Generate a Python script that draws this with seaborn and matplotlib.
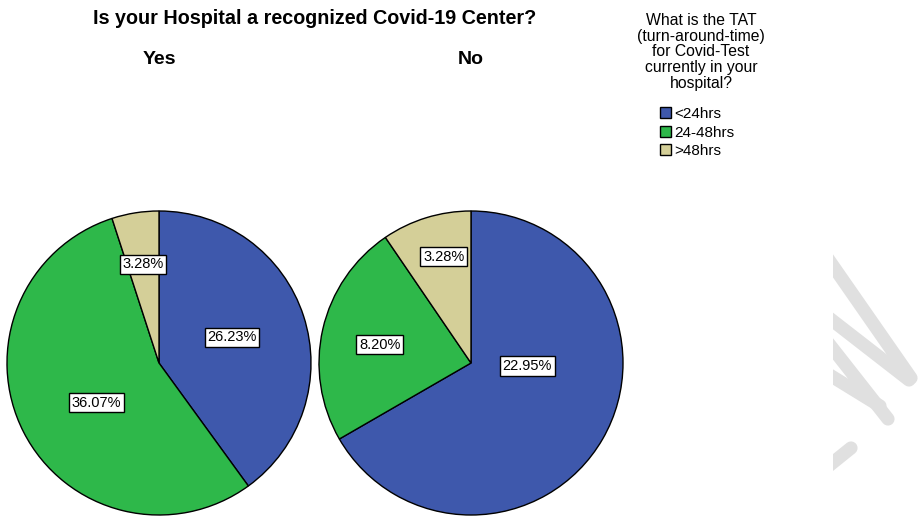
import matplotlib
matplotlib.use("Agg")
import matplotlib.pyplot as plt
import seaborn as sns
from matplotlib.patches import Patch, Rectangle
from matplotlib.lines import Line2D

# Data: respondent counts (percent labels are share of all respondents)
groups = ["Yes", "No"]
tat_categories = ["<24hrs", "24-48hrs", ">48hrs"]
yes_counts = [16, 22, 2]
no_counts = [14, 5, 2]
colors = ["#3e58ac", "#2eb84a", "#d4cf98"]

total = sum(yes_counts) + sum(no_counts)

sns.set_theme(style="white")
plt.rcParams["font.family"] = ["Liberation Sans", "DejaVu Sans"]
plt.rcParams["text.color"] = "black"

fig = plt.figure(figsize=(9.19, 5.2), dpi=100)
W, H = 919, 520

# label positions inside each pie (data coords, radius 1)
label_pos = {
    "Yes": [(0.48, 0.17), (-0.41, -0.26), (-0.105, 0.65)],
    "No": [(0.37, -0.02), (-0.60, 0.12), (-0.18, 0.70)],
}
pie_left = {"Yes": 7, "No": 319}

for name, counts in zip(groups, [yes_counts, no_counts]):
    ax = fig.add_axes([pie_left[name] / W, 5 / H, 304 / W, 304 / H])
    wedges, _ = ax.pie(counts, colors=colors, startangle=90, counterclock=False,
                       wedgeprops=dict(edgecolor="black", linewidth=1))
    for w in wedges:
        w.set_clip_on(False)
    for c, (x, y) in zip(counts, label_pos[name]):
        ax.text(x, y, f"{c / total * 100:.2f}%", ha="center", va="center", fontsize=10.5,
                bbox=dict(boxstyle="square,pad=0.18", fc="white", ec="black", lw=1))
    ax.set_xlim(-1, 1)
    ax.set_ylim(-1, 1)
    ax.set_aspect("equal")
    ax.axis("off")
    fig.text((pie_left[name] + 152) / W, 1 - 59 / H, name, ha="center", va="center",
             fontsize=14, fontweight="bold")

fig.text(315 / W, 1 - 18 / H, "Is your Hospital a recognized Covid-19 Center?",
         ha="center", va="center", fontsize=14.2, fontweight="bold")

fig.text(701 / W, 1 - 52 / H,
         "What is the TAT\n(turn-around-time)\nfor Covid-Test\ncurrently in your\nhospital?",
         ha="center", va="center", fontsize=11.3, linespacing=1.08)

handles = [Patch(facecolor=c, edgecolor="black", linewidth=1) for c in colors]
fig.legend(handles, tat_categories, loc="upper left", bbox_to_anchor=(660 / W, 1 - 107 / H),
           frameon=False, fontsize=11, handlelength=0.75, handleheight=0.75,
           handletextpad=0.2, labelspacing=0.3, borderpad=0, borderaxespad=0)

# faint watermark strokes at right edge, cut off at x=833
clip = Rectangle((833 / W, 0), 1, 1, transform=fig.transFigure, facecolor="none")
wm = [((815, 240), (911, 378)), ((815, 307), (909, 380)),
      ((815, 326), (888, 419)), ((815, 366), (880, 406)),
      ((815, 477), (851, 448))]
for (x0, y0), (x1, y1) in wm:
    ln = Line2D([x0 / W, x1 / W], [1 - y0 / H, 1 - y1 / H],
                color="#e0e0e0", linewidth=9.5, solid_capstyle="round")
    fig.add_artist(ln)
    ln.set_clip_path(clip)

fig.savefig("out.png", dpi=100, facecolor="white")
